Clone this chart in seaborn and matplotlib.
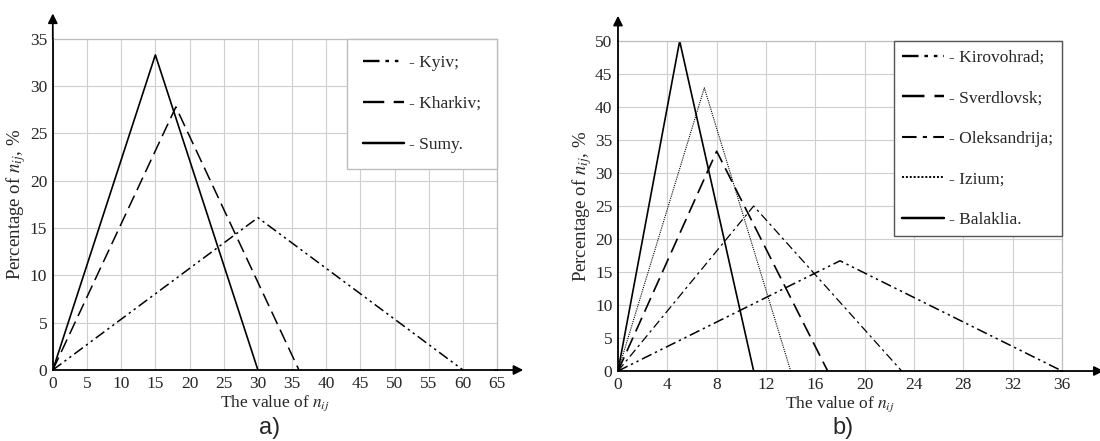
import numpy as np
import matplotlib
matplotlib.use("Agg")
import matplotlib.pyplot as plt
import seaborn as sns
import pandas as pd
from matplotlib.lines import Line2D

# data (triangular distributions)
kyiv_x = [0, 30, 60]
kyiv_y = [0, 16.1, 0]
kharkiv_x = [0, 18, 36]
kharkiv_y = [0, 27.8, 0]
sumy_x = [0, 15, 30]
sumy_y = [0, 33.3, 0]

kirovohrad_x = [0, 18, 36]
kirovohrad_y = [0, 16.7, 0]
sverdlovsk_x = [0, 8, 17]
sverdlovsk_y = [0, 33.3, 0]
oleksandrija_x = [0, 11, 23]
oleksandrija_y = [0, 25.0, 0]
izium_x = [0, 7, 14]
izium_y = [0, 42.9, 0]
balaklia_x = [0, 5, 11]
balaklia_y = [0, 50.0, 0]

left_labels = ['- Kyiv;', '- Kharkiv;', '- Sumy.']
right_labels = ['- Kirovohrad;', '- Sverdlovsk;', '- Oleksandrija;', '- Izium;', '- Balaklia.']

sns.set_style("white")
plt.rcParams['font.family'] = ['Liberation Serif', 'DejaVu Serif']
plt.rcParams['mathtext.fontset'] = 'stix'

# line styles
dashdotdot = (0, (7, 2.5, 1.5, 2.5, 1.5, 2.5))
longdash = (0, (9, 4))
dashdot = (0, (7, 3, 2, 3))
fine_dot = (0, (1, 1))

fig = plt.figure(figsize=(11, 4.41), dpi=100)
ax1 = fig.add_axes([0.048, 0.161, 0.404, 0.751])
ax2 = fig.add_axes([0.5618, 0.1587, 0.4037, 0.7483])

left_series = [(kyiv_x, kyiv_y, dashdotdot, 1.1),
               (kharkiv_x, kharkiv_y, longdash, 1.1),
               (sumy_x, sumy_y, '-', 1.2)]
right_series = [(kirovohrad_x, kirovohrad_y, dashdotdot, 1.1),
                (sverdlovsk_x, sverdlovsk_y, longdash, 1.2),
                (oleksandrija_x, oleksandrija_y, dashdot, 0.9),
                (izium_x, izium_y, fine_dot, 0.8),
                (balaklia_x, balaklia_y, '-', 1.2)]


def draw(ax, series, labels, xmax, xstep, ymax, xlim_extra):
    handles = []
    for (xs, ys, ls, lw), lab in zip(series, labels):
        df = pd.DataFrame({'x': xs, 'y': ys})
        sns.lineplot(data=df, x='x', y='y', ax=ax, color='black', lw=lw, linestyle=ls)
        handles.append(Line2D([], [], color='black', lw=lw + 0.6, linestyle=ls))
    ax.set_xlim(0, xmax)
    ax.set_ylim(0, ymax)
    ax.set_xticks(np.arange(0, xmax + 0.1, xstep))
    ax.set_yticks(np.arange(0, ymax + 0.1, 5))
    ax.grid(True, color='#cfcfcf', lw=0.8)
    ax.tick_params(length=0, labelsize=12.5, pad=4)
    for s in ['top', 'right']:
        ax.spines[s].set_color('#bdbdbd')
        ax.spines[s].set_linewidth(0.9)
    for s in ['left', 'bottom']:
        ax.spines[s].set_color('black')
        ax.spines[s].set_linewidth(1.3)
    ax.set_xlabel('The value of $n_{ij}$', fontsize=12.5, labelpad=1)
    ax.set_ylabel('Percentage of $n_{ij}$, %', fontsize=13.5, labelpad=1)
    # arrows along the axes
    ax.annotate('', xy=(xlim_extra, 0), xytext=(0.99, 0), xycoords='axes fraction',
                arrowprops=dict(arrowstyle='-|>', color='black', lw=1.3,
                                mutation_scale=14), annotation_clip=False)
    ax.annotate('', xy=(0, 1.085), xytext=(0, 0.99), xycoords='axes fraction',
                arrowprops=dict(arrowstyle='-|>', color='black', lw=1.3,
                                mutation_scale=14), annotation_clip=False)
    return handles


h1 = draw(ax1, left_series, left_labels, 65, 5, 35, 1.065)
h2 = draw(ax2, right_series, right_labels, 36, 4, 50, 1.1)

leg1 = ax1.legend(h1, left_labels, loc='upper right', bbox_to_anchor=(1, 1),
                  borderaxespad=0, fancybox=False, edgecolor='#bdbdbd',
                  fontsize=12.5, handlelength=2.4, labelspacing=1.45,
                  handletextpad=0.3, borderpad=0.9, framealpha=1)
leg1.get_frame().set_linewidth(1.0)
leg2 = ax2.legend(h2, right_labels, loc='upper right', bbox_to_anchor=(1, 1),
                  borderaxespad=0, fancybox=False, edgecolor='#555555',
                  fontsize=12.5, handlelength=2.4, labelspacing=1.4,
                  handletextpad=0.3, borderpad=0.5, framealpha=1)
leg2.get_frame().set_linewidth(1.0)

fig.text(0.245, 0.015, 'a)', fontsize=17, ha='center', family=['Liberation Sans', 'DejaVu Sans'])
fig.text(0.766, 0.015, 'b)', fontsize=17, ha='center', family=['Liberation Sans', 'DejaVu Sans'])

fig.savefig('out.png', dpi=100)
